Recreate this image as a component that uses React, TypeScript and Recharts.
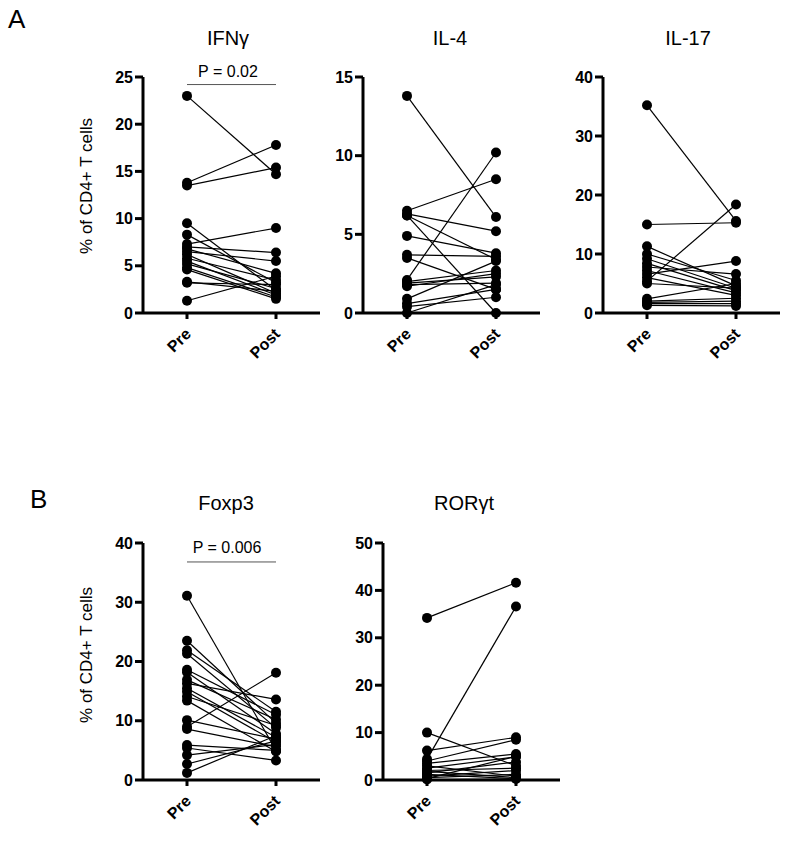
import React from "react";
import { LineChart, Line, XAxis, YAxis, ReferenceLine } from "recharts";

const groups = ["Pre", "Post"];

const ifngPre = [23, 13.8, 13.5, 9.5, 8.3, 7.3, 7.0, 6.8, 6.5, 6.2, 5.8, 5.5, 5.2, 4.8, 4.6, 3.2, 3.3, 1.3];
const ifngPost = [14.7, 17.8, 15.4, 2.4, 3.2, 9.0, 6.4, 4.2, 5.5, 2.1, 3.5, 1.9, 2.6, 1.7, 1.5, 3.0, 2.3, 3.9];
const ifngTicks = [0, 5, 10, 15, 20, 25];

const il4Pre = [13.8, 6.5, 6.3, 6.2, 6.2, 4.9, 3.7, 3.5, 2.1, 2.0, 1.9, 1.8, 1.7, 0.9, 0.6, 0.4, 0];
const il4Post = [6.1, 8.5, 5.2, 3.4, 0, 3.8, 3.6, 1.5, 10.2, 2.7, 2.3, 1.9, 2.5, 3.3, 1.5, 1.0, 1.8];
const il4Ticks = [0, 5, 10, 15];

const il17Pre = [35.2, 15.0, 11.3, 10.0, 9.2, 8.4, 7.8, 7.2, 6.6, 6.0, 5.4, 5.0, 2.4, 2.0, 1.6, 1.3, 1.8];
const il17Post = [15.6, 15.3, 4.6, 5.5, 4.2, 3.8, 6.6, 3.4, 8.8, 3.0, 18.4, 4.2, 5.0, 2.5, 1.6, 1.2, 2.0];
const il17Ticks = [0, 10, 20, 30, 40];

const foxp3Pre = [31.1, 23.5, 21.9, 21.3, 18.6, 18.2, 16.9, 16.3, 15.5, 14.9, 14.1, 13.4, 10.1, 9.0, 8.6, 5.9, 5.4, 4.2, 2.7, 1.2];
const foxp3Post = [5.0, 9.6, 11.5, 8.8, 11.0, 7.8, 10.2, 13.6, 7.2, 6.4, 9.2, 4.8, 6.9, 18.1, 5.6, 5.0, 3.3, 6.0, 6.6, 7.5];
const foxp3Ticks = [0, 10, 20, 30, 40];

const rorPre = [34.2, 4.4, 10.0, 6.2, 4.0, 3.5, 3.0, 2.5, 2.0, 1.5, 1.2, 0.8, 0.5, 0.3, 0.1, 1.8];
const rorPost = [41.6, 36.6, 3.0, 9.0, 8.5, 5.5, 0.8, 4.9, 2.5, 3.8, 0.3, 2.0, 1.2, 5.0, 0.2, 0.5];
const rorTicks = [0, 10, 20, 30, 40, 50];

const FONT = '"Liberation Sans", Arial, sans-serif';

function toRows(pre: number[], post: number[]) {
  return groups.map((g, gi) => {
    const row: Record<string, any> = { group: g };
    pre.forEach((v, i) => {
      row[`s${i}`] = gi === 0 ? v : post[i];
    });
    return row;
  });
}

const XTick = (props: any) => {
  const { x, y, payload } = props;
  const ax = x + 5;
  const ay = y + 15;
  return (
    <text
      x={ax}
      y={ay}
      transform={`rotate(-45 ${ax} ${ay})`}
      textAnchor="end"
      fontSize={16}
      fontWeight="bold"
      fontFamily={FONT}
      fill="#000"
    >
      {payload.value}
    </text>
  );
};

type PanelProps = {
  pre: number[];
  post: number[];
  ticks: number[];
  left: number;
  top: number;
  plotH: number;
  pLine?: number;
};

function Panel({ pre, post, ticks, left, top, plotH, pLine }: PanelProps) {
  const data = toRows(pre, post);
  const max = ticks[ticks.length - 1];
  return (
    <div style={{ position: "absolute", left, top }}>
      <LineChart
        width={232}
        height={20 + plotH + 50}
        data={data}
        margin={{ top: 20, right: 10, bottom: 0, left: 0 }}
      >
        <XAxis
          dataKey="group"
          padding={{ left: 44, right: 44 }}
          axisLine={{ stroke: "#000", strokeWidth: 3 }}
          tickLine={{ stroke: "#000", strokeWidth: 3 }}
          tickSize={6}
          tickMargin={1}
          height={50}
          interval={0}
          tick={<XTick />}
        />
        <YAxis
          domain={[0, max]}
          ticks={ticks}
          interval={0}
          width={45}
          axisLine={{ stroke: "#000", strokeWidth: 3 }}
          tickLine={{ stroke: "#000", strokeWidth: 3 }}
          tickSize={8}
          tickMargin={2}
          tick={{ fontSize: 16, fontWeight: "bold", fill: "#000", fontFamily: FONT }}
        />
        {pLine !== undefined && (
          <ReferenceLine
            segment={[
              { x: "Pre", y: pLine },
              { x: "Post", y: pLine },
            ]}
            stroke="#555"
            strokeWidth={1}
            ifOverflow="visible"
          />
        )}
        {pre.map((_, i) => (
          <Line
            key={i}
            dataKey={`s${i}`}
            stroke="#000"
            strokeWidth={1.2}
            dot={{ r: 5, fill: "#000", stroke: "#000", strokeWidth: 0 }}
            isAnimationActive={false}
          />
        ))}
      </LineChart>
    </div>
  );
}

const Label = ({ text, cx, top, size }: { text: string; cx: number; top: number; size: number }) => (
  <div
    style={{
      position: "absolute",
      left: cx - 100,
      top,
      width: 200,
      textAlign: "center",
      fontSize: size,
      lineHeight: 1,
      fontFamily: FONT,
      color: "#000",
    }}
  >
    {text}
  </div>
);

const YTitle = ({ cy }: { cy: number }) => (
  <div
    style={{
      position: "absolute",
      left: 87 - 100,
      top: cy - 10,
      width: 200,
      height: 20,
      lineHeight: "20px",
      textAlign: "center",
      fontSize: 17,
      fontFamily: FONT,
      transform: "rotate(-90deg)",
      color: "#000",
    }}
  >
    % of CD4+ T cells
  </div>
);

export default function App() {
  return (
    <div style={{ position: "absolute", left: 0, top: 0, width: 800, height: 842, background: "#fff" }}>
      <div style={{ position: "absolute", left: 8, top: 6, fontSize: 26, lineHeight: 1, fontFamily: FONT }}>A</div>
      <div style={{ position: "absolute", left: 30, top: 486, fontSize: 26, lineHeight: 1, fontFamily: FONT }}>B</div>

      <Label text="IFNγ" cx={228} top={28} size={20} />
      <Label text="IL-4" cx={450} top={28} size={20} />
      <Label text="IL-17" cx={688} top={28} size={20} />
      <Label text="Foxp3" cx={226} top={493} size={20} />
      <Label text="RORγt" cx={464} top={493} size={20} />

      <Label text="P = 0.02" cx={228} top={63.5} size={16} />
      <Label text="P = 0.006" cx={227} top={539.5} size={16} />

      <YTitle cy={186} />
      <YTitle cy={655} />

      <Panel pre={ifngPre} post={ifngPost} ticks={ifngTicks} left={98} top={57} plotH={236} pLine={24.2} />
      <Panel pre={il4Pre} post={il4Post} ticks={il4Ticks} left={318} top={57} plotH={236} />
      <Panel pre={il17Pre} post={il17Post} ticks={il17Ticks} left={558} top={57} plotH={236} />
      <Panel pre={foxp3Pre} post={foxp3Post} ticks={foxp3Ticks} left={98} top={523} plotH={237} pLine={36.8} />
      <Panel pre={rorPre} post={rorPost} ticks={rorTicks} left={338} top={523} plotH={237} />
    </div>
  );
}
